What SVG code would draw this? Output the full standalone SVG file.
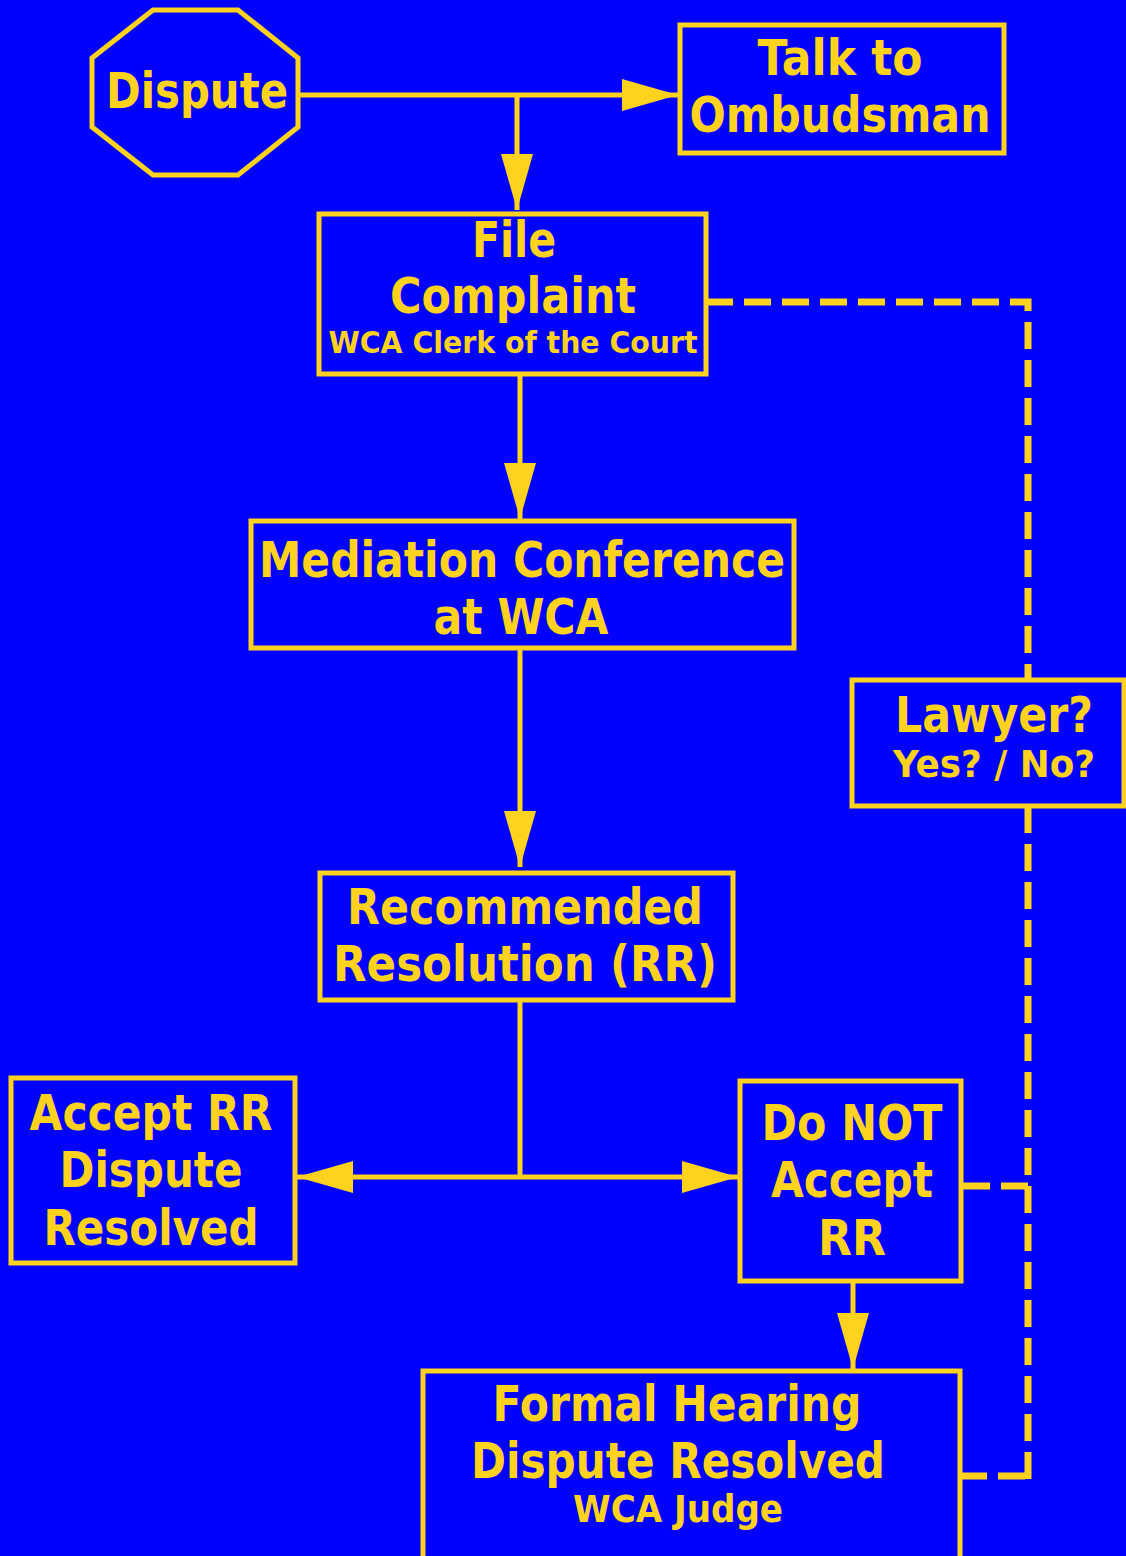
<svg xmlns="http://www.w3.org/2000/svg" width="1126" height="1556" viewBox="0 0 1126 1556">
<style>
.box{fill:#0000FF;stroke:#FFD21E;stroke-width:5}
.t{font-family:"DejaVu Sans","Verdana",sans-serif;font-weight:bold;fill:#FFD21E;text-anchor:middle;font-size:49px}
.s{font-size:31px}
.m{font-size:37px}
.c{fill:none;stroke:#FFD21E;stroke-width:5}
.d{fill:none;stroke:#FFD21E;stroke-width:7;stroke-dasharray:27 11}
</style>
<defs>
<marker id="ah" viewBox="0 0 56 32" refX="56" refY="16" markerWidth="56" markerHeight="32" markerUnits="userSpaceOnUse" orient="auto">
<path d="M0,0 L56,16 L0,32 z" fill="#FFD21E"/>
</marker>
</defs>
<rect width="1126" height="1556" fill="#0000FF"/>
<g id="connectors">
<path class="c" d="M298,95 H678" marker-end="url(#ah)"/>
<path class="c" d="M517,95 V210" marker-end="url(#ah)"/>
<path class="c" d="M520,375 V519" marker-end="url(#ah)"/>
<path class="c" d="M520,648 V867" marker-end="url(#ah)"/>
<path class="c" d="M520,1000 V1177"/>
<path class="c" d="M520,1177 H297" marker-end="url(#ah)"/>
<path class="c" d="M520,1177 H738" marker-end="url(#ah)"/>
<path class="c" d="M853,1281 V1369" marker-end="url(#ah)"/>
<path class="d" d="M706,302 H1028 V680"/>
<path class="d" d="M1028,806 V1487"/>
<path class="d" d="M963,1186 H1028"/>
<path class="d" d="M960,1476 H1028"/>
</g>
<g id="dispute">
<polygon class="box" points="153,10 238,10 298,58 298,127 238,175 153,175 92,127 92,58"/>
<text class="t" x="197" y="108" textLength="182" lengthAdjust="spacingAndGlyphs">Dispute</text>
</g>
<g id="ombudsman">
<rect class="box" x="680" y="25" width="324" height="128"/>
<text class="t" x="840" y="75" textLength="165" lengthAdjust="spacingAndGlyphs">Talk to</text>
<text class="t" x="840" y="132" textLength="301" lengthAdjust="spacingAndGlyphs">Ombudsman</text>
</g>
<g id="file-complaint">
<rect class="box" x="319" y="214" width="387" height="160"/>
<text class="t" x="514" y="257" textLength="84" lengthAdjust="spacingAndGlyphs">File</text>
<text class="t" x="513" y="313" textLength="246" lengthAdjust="spacingAndGlyphs">Complaint</text>
<text class="t s" x="513" y="353" textLength="369" lengthAdjust="spacingAndGlyphs">WCA Clerk of the Court</text>
</g>
<g id="mediation">
<rect class="box" x="251" y="521" width="543" height="127"/>
<text class="t" x="522" y="577" textLength="526" lengthAdjust="spacingAndGlyphs">Mediation Conference</text>
<text class="t" x="521" y="634" textLength="175" lengthAdjust="spacingAndGlyphs">at WCA</text>
</g>
<g id="lawyer">
<rect class="box" x="852" y="680" width="272" height="126"/>
<text class="t" x="994" y="732" textLength="198" lengthAdjust="spacingAndGlyphs">Lawyer?</text>
<text class="t m" x="994" y="777" textLength="202" lengthAdjust="spacingAndGlyphs">Yes? / No?</text>
</g>
<g id="recommended">
<rect class="box" x="320" y="873" width="413" height="127"/>
<text class="t" x="525" y="924" textLength="356" lengthAdjust="spacingAndGlyphs">Recommended</text>
<text class="t" x="525" y="981" textLength="384" lengthAdjust="spacingAndGlyphs">Resolution (RR)</text>
</g>
<g id="accept">
<rect class="box" x="11" y="1078" width="284" height="185"/>
<text class="t" x="151" y="1130" textLength="243" lengthAdjust="spacingAndGlyphs">Accept RR</text>
<text class="t" x="151" y="1187" textLength="183" lengthAdjust="spacingAndGlyphs">Dispute</text>
<text class="t" x="151" y="1245" textLength="215" lengthAdjust="spacingAndGlyphs">Resolved</text>
</g>
<g id="not-accept">
<rect class="box" x="740" y="1081" width="221" height="200"/>
<text class="t" x="852" y="1140" textLength="181" lengthAdjust="spacingAndGlyphs">Do NOT</text>
<text class="t" x="852" y="1197" textLength="162" lengthAdjust="spacingAndGlyphs">Accept</text>
<text class="t" x="852" y="1255" textLength="68" lengthAdjust="spacingAndGlyphs">RR</text>
</g>
<g id="formal-hearing">
<rect class="box" x="423" y="1371" width="537" height="200"/>
<text class="t" x="677" y="1421" textLength="369" lengthAdjust="spacingAndGlyphs">Formal Hearing</text>
<text class="t" x="678" y="1478" textLength="414" lengthAdjust="spacingAndGlyphs">Dispute Resolved</text>
<text class="t m" x="678" y="1522" textLength="210" lengthAdjust="spacingAndGlyphs">WCA Judge</text>
</g>
</svg>
